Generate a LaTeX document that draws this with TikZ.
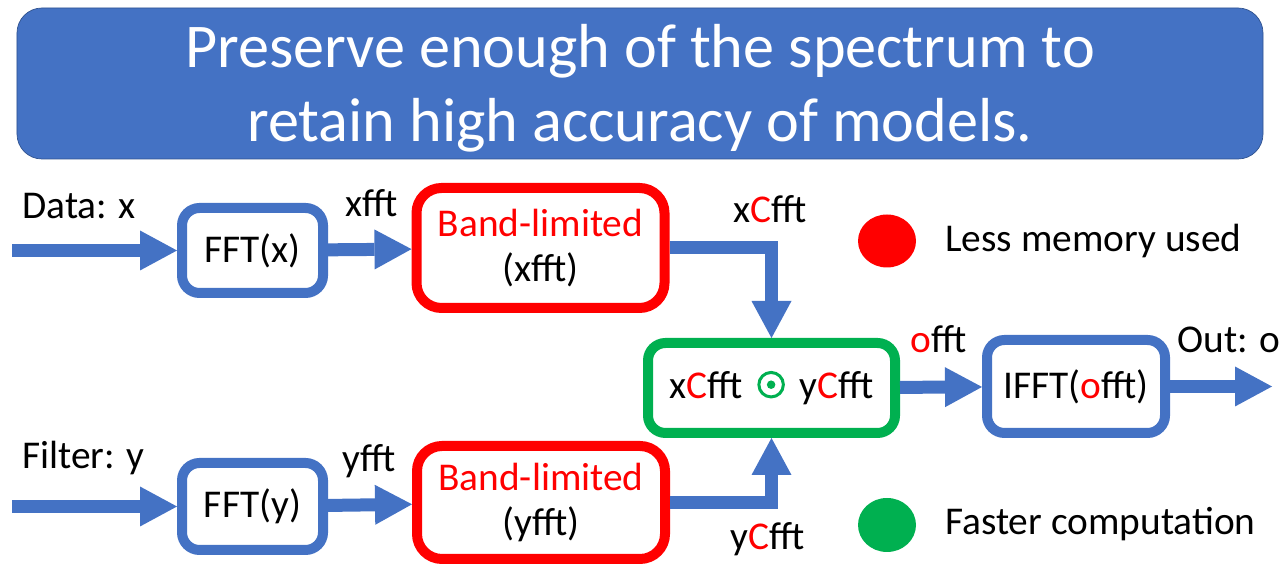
\documentclass[tikz,border=0pt]{standalone}
\usepackage{fontspec}
\setmainfont{Carlito}
\usetikzlibrary{arrows.meta,positioning}
\definecolor{slideblue}{HTML}{4472C4}
\definecolor{slideedge}{HTML}{2F528F}
\definecolor{bandred}{HTML}{FF0000}
\definecolor{fastgreen}{HTML}{00B050}
% elementwise product sign
\newcommand{\prodsign}{\hspace{0.12cm}\tikz[baseline=0pt]{\draw[fastgreen, line width=0.06cm] (0,0.28) circle (0.245cm); \fill[fastgreen] (0,0.28) circle (0.085cm);}\hspace{0.12cm}}

\begin{document}
\begin{tikzpicture}[every node/.style={font=\fontsize{22.4}{26}\selectfont},
    flow/.style={draw=slideblue, line width=0.26cm, -{Triangle[length=0.74cm, width=0.8cm, line width=0pt]}},
    fftbox/.style={draw=slideblue, line width=0.2cm, rounded corners=0.35cm, fill=white, inner sep=0, align=center},
    bandbox/.style={draw=bandred, line width=0.2cm, rounded corners=0.5cm, fill=white, inner sep=0, align=center},
    lbl/.style={anchor=base west, inner sep=0}]
    \useasboundingbox (0,0) rectangle (25.6,11.52);

    % Title banner
    \draw[draw=slideedge, fill=slideblue, rounded corners=0.5cm] (0.34,8.34) rectangle (25.26,11.36);
    \node[anchor=base, text=white, font=\fontsize{35.4}{41}\selectfont] (title1) at (12.8,10.16) {Preserve enough of the spectrum to};
    \node[anchor=base, text=white, font=\fontsize{35.4}{41}\selectfont] (title2) at (12.8,8.68) {retain high accuracy of models.};

    % Data path
    \coordinate (datain) at (0.24,6.51);
    \node[fftbox, minimum width=2.82cm, minimum height=1.70cm] (fftx) at (5.05,6.51) {FFT(x)};
    \node[bandbox, minimum width=4.96cm, minimum height=2.40cm] (bandx) at (10.81,6.56) {\textcolor{bandred}{Band-limited}\\(xfft)};
    \draw[flow] (datain) -- (fftx);
    \draw[flow] (fftx) -- (bandx);

    % Filter path
    \coordinate (filterin) at (0.24,1.39);
    \node[fftbox, minimum width=2.82cm, minimum height=1.74cm] (ffty) at (5.05,1.39) {FFT(y)};
    \node[bandbox, minimum width=4.96cm, minimum height=2.26cm] (bandy) at (10.82,1.47) {\textcolor{bandred}{Band-limited}\\(yfft)};
    \draw[flow] (filterin) -- (ffty);
    \draw[flow] (ffty) -- (bandy);

    % Product and inverse
    \node[fftbox, draw=fastgreen, minimum width=4.94cm, minimum height=1.80cm] (prod) at (15.43,3.76)
        {x\textcolor{bandred}{C}fft \prodsign{} y\textcolor{bandred}{C}fft};
    \node[fftbox, minimum width=3.56cm, minimum height=1.86cm] (ifft) at (21.52,3.79) {IFFT(\textcolor{bandred}{o}fft)};
    \coordinate (outend) at (25.44,3.79);
    \draw[flow] (bandx.east) -| (prod.north);
    \draw[flow] (bandy.east) -| (prod.south);
    \draw[flow] (prod) -- (ifft);
    \draw[flow] (ifft) -- (outend);

    % Labels
    \node[lbl] (ldata) at (0.44,7.14) {Data: x};
    \node[lbl] (lxfft) at (6.9,7.18) {xfft};
    \node[lbl] (lxc) at (14.66,7.06) {x\textcolor{bandred}{C}fft};
    \node[lbl] (lfilter) at (0.44,2.14) {Filter: y};
    \node[lbl] (lyfft) at (6.84,2.08) {yfft};
    \node[lbl] (lyc) at (14.6,0.52) {y\textcolor{bandred}{C}fft};
    \node[lbl] (lofft) at (18.2,4.46) {\textcolor{bandred}{o}fft};
    \node[lbl] (lout) at (23.54,4.46) {Out: o};

    % Legend
    \fill[bandred] (17.74,6.70) ellipse (0.58cm and 0.53cm);
    \node[lbl] (lmem) at (18.9,6.48) {Less memory used};
    \fill[fastgreen] (17.74,1.02) ellipse (0.58cm and 0.54cm);
    \node[lbl] (lfast) at (18.9,0.82) {Faster computation};
\end{tikzpicture}
\end{document}
